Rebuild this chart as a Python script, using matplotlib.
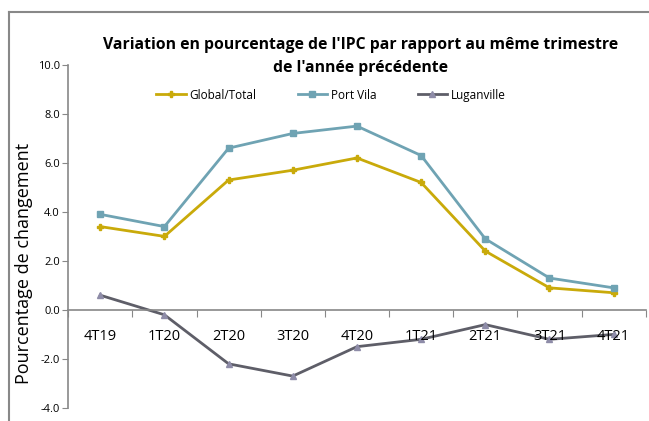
import numpy as np
import matplotlib.pyplot as plt
from matplotlib.lines import Line2D

# quarters and CPI change (%) vs same quarter previous year
quarters = ["4T19", "1T20", "2T20", "3T20", "4T20", "1T21", "2T21", "3T21", "4T21"]
global_total = [3.4, 3.0, 5.3, 5.7, 6.2, 5.2, 2.4, 0.9, 0.7]
port_vila = [3.9, 3.4, 6.6, 7.2, 7.5, 6.3, 2.9, 1.3, 0.9]
luganville = [0.6, -0.2, -2.2, -2.7, -1.5, -1.2, -0.6, -1.2, -1.0]

plt.rcParams['font.family'] = ['Open Sans', 'DejaVu Sans']

fig = plt.figure(figsize=(6.49, 4.21), dpi=100)
ax = fig.add_axes([0.105, 0.031, 0.89, 0.815])

x = np.arange(len(quarters))
ax.plot(x, global_total, color="#C9AA0A", lw=2, marker="P", ms=5, label="Global/Total")
ax.plot(x, port_vila, color="#6FA3B3", lw=2, marker="s", ms=5, label="Port Vila")
ax.plot(x, luganville, color="#5E5E68", lw=2, marker="^", ms=5,
        markerfacecolor="#8E8CA8", markeredgecolor="#8E8CA8", label="Luganville")

ax.set_xlim(-0.5, len(quarters) - 0.5)
ax.set_ylim(-4, 10)
ax.set_yticks(np.arange(-4, 10.1, 2))
ax.set_yticklabels([f"{v:.1f}" for v in np.arange(-4, 10.1, 2)], fontsize=8)
ax.tick_params(axis='y', length=4, color="#888888", pad=2)

# x axis sits at zero, ticks between categories
ax.spines['bottom'].set_position(('data', 0))
ax.spines['top'].set_visible(False)
ax.spines['right'].set_visible(False)
for s in ['left', 'bottom']:
    ax.spines[s].set_color("#888888")
    ax.spines[s].set_linewidth(1.2)
ax.set_xticks(np.arange(-0.5, len(quarters), 1))
ax.set_xticklabels([])
ax.tick_params(axis='x', length=5, color="#888888", direction='out')
for i, q in enumerate(quarters):
    ax.text(i, -1.1, q, ha='center', va='center', fontsize=10.5)

ax.set_ylabel("Pourcentage de changement", fontsize=13)
ax.yaxis.set_label_coords(-0.06, 0.42)

fig.text(0.555, 0.865, "Variation en pourcentage de l'IPC par rapport au même trimestre\nde l'année précédente",
         ha='center', va='center', fontsize=11.3, fontweight='bold', linespacing=1.6)

ax.legend(loc='center', bbox_to_anchor=(0.455, 0.912), ncol=3, frameon=False,
          fontsize=8.5, handlelength=2.5, columnspacing=3.5, handletextpad=0.3)

# outer frame
fig.add_artist(Line2D([9 / 649, 1.0], [1 - 12 / 421, 1 - 12 / 421], color="#888888", lw=1.5,
                      transform=fig.transFigure))
fig.add_artist(Line2D([9 / 649, 9 / 649], [0, 1 - 12 / 421], color="#888888", lw=1.5,
                      transform=fig.transFigure))

fig.savefig("out.png", dpi=100)
